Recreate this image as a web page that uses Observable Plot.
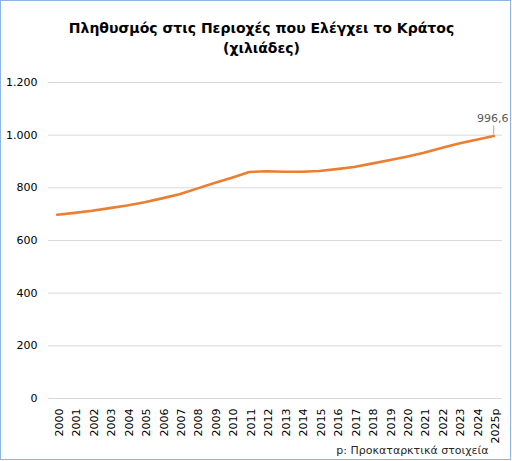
<!DOCTYPE html>
<html>
<head>
<meta charset="utf-8">
<script src="https://cdn.jsdelivr.net/npm/d3@7"></script>
<script src="https://cdn.jsdelivr.net/npm/@observablehq/plot@0.6"></script>
<style>
  html, body { margin: 0; padding: 0; background: #fff; }
  #wrap { position: relative; width: 512px; height: 461px; }
  #border { position: absolute; left: 0; top: 0; width: 511px; height: 460px; box-sizing: border-box; border: 1px solid #8DB4E2; pointer-events: none; }
</style>
</head>
<body>
<div id="wrap"><div id="border"></div></div>
<script>
const years = ["2000","2001","2002","2003","2004","2005","2006","2007","2008","2009","2010","2011","2012","2013","2014","2015","2016","2017","2018","2019","2020","2021","2022","2023","2024","2025p"];
const population = [698, 705, 713, 723, 733, 745, 760, 776, 797, 818, 838, 860, 863, 861, 861, 864, 871, 879, 892, 905, 918, 933, 951, 968, 983, 996.6];
const yTicks = [0, 200, 400, 600, 800, 1000, 1200];
const titleText = "Πληθυσμός στις Περιοχές που Ελέγχει το Κράτος\n(χιλιάδες)";
const captionText = "p: Προκαταρκτικά στοιχεία";
const lastLabel = "996,6";

const data = years.map((y, i) => ({year: y, value: population[i]}));
const last = data[data.length - 1];
const loc = d3.formatLocale({decimal: ",", thousands: ".", grouping: [3], currency: ["", ""]});
const fmt = loc.format(",");
const font = "DejaVu Sans, Verdana, sans-serif";

const chart = Plot.plot({
  width: 512,
  height: 461,
  marginLeft: 48,
  marginRight: 10,
  marginTop: 82,
  marginBottom: 63,
  style: {fontFamily: font, fontSize: "11px", color: "#000", background: "#fff"},
  x: {type: "point", domain: years, padding: 0.5, round: false, label: null},
  y: {domain: [0, 1200], label: null},
  marks: [
    Plot.gridY(yTicks, {stroke: "#d9d9d9", strokeOpacity: 1, strokeWidth: 1}),
    Plot.axisY(yTicks, {tickSize: 0, tickPadding: 11, tickFormat: fmt, fontSize: 11, fill: "#000"}),
    Plot.axisX({tickSize: 0, tickPadding: 10, tickRotate: -90, fontSize: 11, fill: "#000", dx: 2}),
    Plot.line(data, {x: "year", y: "value", stroke: "#ED7D31", strokeWidth: 2.6, strokeLinejoin: "round", strokeLinecap: "round"}),
    Plot.ruleX([last], {x: "year", y1: "value", y2: "value", insetTop: 0, insetBottom: 9, stroke: "#a6a6a6", strokeWidth: 1, dy: -1}),
    Plot.text([last], {x: "year", y: "value", text: () => lastLabel, dy: -18, dx: -1, fill: "#595959", fontSize: 11}),
    Plot.text([titleText], {frameAnchor: "top", dy: -63, dx: -14, text: d => d, fontSize: 14, fontWeight: "bold", fill: "#000", lineHeight: 1.4}),
    Plot.text([captionText], {frameAnchor: "bottom-right", textAnchor: "end", dy: 55, dx: -14, text: d => d, fontSize: 11, fill: "#262626"})
  ]
});
document.getElementById("wrap").prepend(chart);
</script>
</body>
</html>
